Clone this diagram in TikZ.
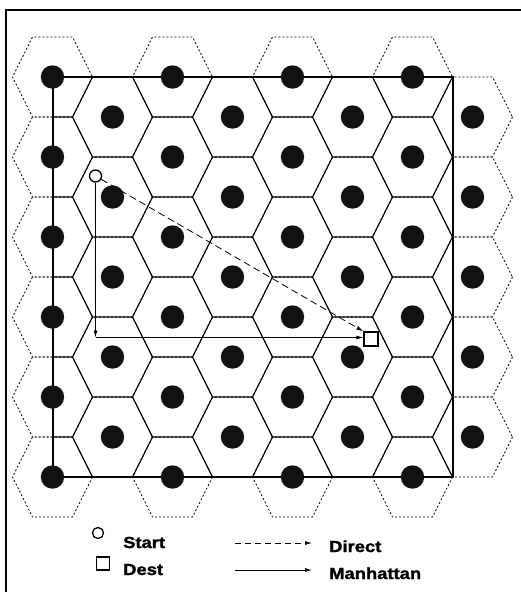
\documentclass[tikz,border=0pt]{standalone}
\usepackage{fontspec}
\newfontfamily\keyfont[FakeStretch=1.15,FakeBold=1.6]{Liberation Sans Bold}
\usetikzlibrary{arrows.meta}
\tikzset{
  hexdash/.style={line width=0.8pt,dash pattern=on 2pt off 2pt},
  hexline/.style={line width=0.8pt},
  startmark/.style={circle,draw,line width=1.3pt,fill=white,inner sep=0pt,minimum size=12pt},
  destmark/.style={rectangle,draw,line width=1.3pt,fill=white,inner sep=0pt,minimum size=14pt},
  keytext/.style={anchor=base west,inner sep=0pt,font=\keyfont\fontsize{16}{19}\selectfont}
}
\newcommand{\hexgrid}[1]{%
  \foreach \i in {0,2,4,6} \foreach \j in {0,...,5}
    \draw[#1,shift={({52.5+60*\i},{77+80*\j})}] (40,0) -- (20,40) -- (-20,40) -- (-40,0) -- (-20,-40) -- (20,-40) -- cycle;
  \foreach \i in {1,3,5,7} \foreach \j in {0,...,4}
    \draw[#1,shift={({52.5+60*\i},{117+80*\j})}] (40,0) -- (20,40) -- (-20,40) -- (-40,0) -- (-20,-40) -- (20,-40) -- cycle;
}
\begin{document}
\begin{tikzpicture}[x=1pt,y=-1pt,>={Latex[length=7pt,width=4pt]}]
  \useasboundingbox (0,0) rectangle (521,592);
  \clip (0,0) rectangle (521,592);
  \draw[line width=2pt] (6,10) rectangle (600,660);
  \hexgrid{hexdash}
  \begin{scope}
    \clip (52.5,77) rectangle (452.5,477);
    \hexgrid{hexline}
  \end{scope}
  \draw[line width=2pt] (52.5,77) rectangle (452.5,477);
  \foreach \i in {0,2,4,6} \foreach \j in {0,...,5}
    \fill[black!93] ({52.5+60*\i},{77+80*\j}) circle[radius=11.7pt];
  \foreach \i in {1,3,5,7} \foreach \j in {0,...,4}
    \fill[black!93] ({52.5+60*\i},{117+80*\j}) circle[radius=11.7pt];
  \node[startmark] (start) at (95.5,176) {};
  \node[destmark] (dest) at (371,339) {};
  \coordinate (turn) at (95.5,337.5);
  \draw[->,line width=0.8pt] (start) -- (turn);
  \draw[->,line width=0.8pt] (turn) -- (turn -| dest.west);
  \draw[->,line width=0.8pt,dash pattern=on 7pt off 4pt] (start) -- (dest.north west);
  \node[startmark,minimum size=11pt] (startkey) at (98,533) {};
  \node[keytext] (starttext) at (123,548) {Start};
  \node[destmark,minimum size=13pt] (destkey) at (103,563.5) {};
  \node[keytext] (desttext) at (123,575) {Dest};
  \coordinate (directa) at (235,543);
  \coordinate (directb) at (312,543);
  \draw[->,line width=0.8pt,dash pattern=on 6pt off 4pt] (directa) -- (directb);
  \node[keytext] (directtext) at (329,552) {Direct};
  \coordinate (manha) at (235,570);
  \coordinate (manhb) at (312,570);
  \draw[->,line width=0.8pt] (manha) -- (manhb);
  \node[keytext] (manhtext) at (329,579) {Manhattan};
\end{tikzpicture}
\end{document}
